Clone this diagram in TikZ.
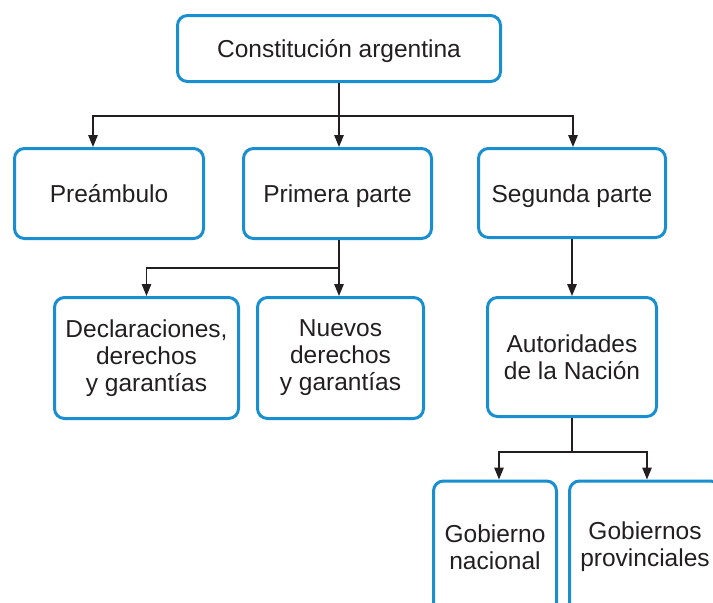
\documentclass[tikz,border=0pt]{standalone}
\usepackage{fontspec}
\setmainfont{Liberation Sans}
\usetikzlibrary{arrows.meta}
\definecolor{boxblue}{HTML}{1A8FD0}
\definecolor{ink}{HTML}{231F20}
\tikzset{
  box/.style={draw=boxblue, line width=3pt, rounded corners=10pt, fill=white,
    text=ink, align=center, inner sep=0pt,
    font=\fontsize{24.5}{27}\selectfont},
  onebox/.style={box, text height=18pt, text depth=0pt},
  link/.style={draw=ink, line width=1.4pt},
  arr/.style={link, -{Triangle[width=9.5pt,length=12pt]}}
}
\begin{document}
\begin{tikzpicture}[x=1pt,y=-1pt]
\clip (0,0) rectangle (713,603);
\fill[white] (0,0) rectangle (713,603);

\node[onebox, minimum width=323pt, minimum height=66pt] (top) at (339,48.5) {Constitución argentina};

\node[onebox, minimum width=189pt, minimum height=90pt] (pre) at (109,193.5) {Preámbulo};
\node[onebox, minimum width=188pt, minimum height=90pt] (pri) at (337.5,193.5) {Primera parte};
\node[onebox, minimum width=187pt, minimum height=89pt] (seg) at (572,193) {Segunda parte};

\node[box, minimum width=184pt, minimum height=121pt] (dec) at (146.5,358) {Declaraciones,\\derechos\\y garantías};
\node[box, minimum width=166pt, minimum height=121pt] (nue) at (340.5,358) {Nuevos\\derechos\\y garantías};
\node[box, minimum width=169pt, minimum height=119pt] (aut) at (572,357) {Autoridades\\de la Nación};

\node[box, minimum width=123pt, minimum height=132pt] (gn) at (495,547) {Gobierno\\nacional};
\node[box, minimum width=151pt, minimum height=132pt] (gp) at (645,547) {Gobiernos\\provinciales};

% connectors
\coordinate (j1) at (339,116);
\coordinate (j2) at (339,268);
\coordinate (j3) at (572,452);

\draw[link] (top.south) -- (j1);
\draw[arr] (j1) -| ([xshift=-16pt]pre.north);
\draw[arr] (j1) -- ([xshift=1.5pt]pri.north);
\draw[arr] (j1) -| ([xshift=1pt]seg.north);

\draw[link] ([xshift=1.5pt]pri.south) -- (j2);
\draw[arr] (j2) -| (dec.north);
\draw[arr] (j2) -- ([xshift=-1.5pt]nue.north);

\draw[arr] (seg.south) -- (aut.north);

\draw[link] (aut.south) -- (j3);
\draw[arr] (j3) -| ([xshift=4pt]gn.north);
\draw[arr] (j3) -| ([xshift=2pt]gp.north);
\end{tikzpicture}
\end{document}
